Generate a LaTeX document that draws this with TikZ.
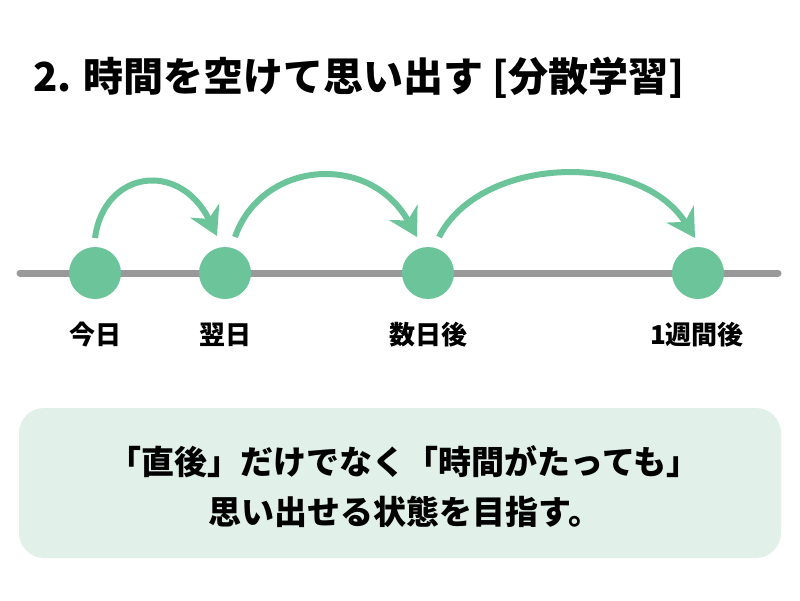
\documentclass[tikz,border=0pt]{standalone}
\usepackage{fontspec}
\setmainfont{Noto Sans CJK JP}
\usetikzlibrary{arrows.meta}
\definecolor{mint}{HTML}{6CC49A}
\definecolor{boxbg}{HTML}{E1F1EA}
\definecolor{axis}{HTML}{999999}
\tikzset{
  dot/.style={circle,fill=mint,minimum size=52pt,inner sep=0pt},
  lbl/.style={font=\fontsize{26}{28}\selectfont\bfseries,text=black},
  jump/.style={draw=mint,line width=6pt,-{Stealth[length=28pt,width=32pt,inset=9pt]}},
  boxtxt/.style={font=\fontsize{33}{36}\selectfont\bfseries},
}
\begin{document}
\begin{tikzpicture}[x=1pt,y=-1pt]
\useasboundingbox[fill=white] (0,0) rectangle (800,600);
% title
\node[anchor=west,inner sep=0pt,font=\fontsize{40}{44}\selectfont\bfseries] (title) at (33,78) {2. 時間を空けて思い出す [分散学習]};
% axis
\coordinate (L) at (20,273);
\coordinate (R) at (778,273);
\draw[axis,line width=7pt,line cap=round] (L) -- (R);
% dots
\node[dot] (d1) at (95,273) {};
\node[dot] (d2) at (225,273) {};
\node[dot] (d3) at (428,273) {};
\node[dot] (d4) at (698,273) {};
% labels
\node[lbl] (l1) at (95,335) {今日};
\node[lbl] (l2) at (225,335) {翌日};
\node[lbl] (l3) at (428,335) {数日後};
\node[lbl] (l4) at (697,335) {1週間後};
% arrows
\coordinate (s1) at (95,238);  \coordinate (e1) at (217,236);
\coordinate (s2) at (235,237); \coordinate (e2) at (417,237);
\coordinate (s3) at (439,237); \coordinate (e3) at (695,238);
\draw[jump] (s1) .. controls (104,170) and (180,160) .. (e1);
\draw[jump] (s2) .. controls (262,160) and (370,152) .. (e2);
\draw[jump] (s3) .. controls (480,156) and (640,150) .. (e3);
% box
\node[fill=boxbg,rounded corners=25pt,minimum width=762pt,minimum height=150pt,inner sep=0pt] (box) at (400,483) {};
\node[boxtxt] (t1) at (404,462) {「直後」だけでなく「時間がたっても」};
\node[boxtxt] (t2) at (405,512) {思い出せる状態を目指す。};
\end{tikzpicture}
\end{document}
